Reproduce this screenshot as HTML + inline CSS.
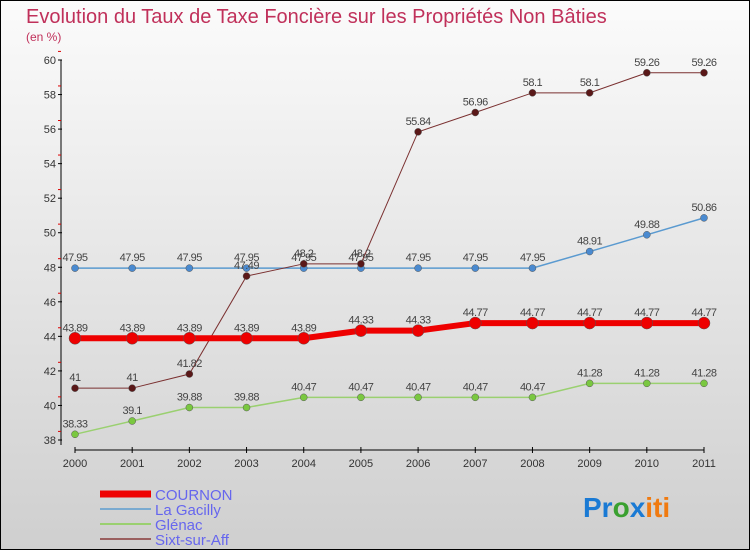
<!DOCTYPE html>
<html><head><meta charset="utf-8"><style>
body{margin:0;width:750px;height:550px;overflow:hidden;font-family:"Liberation Sans",sans-serif}
</style></head><body>
<svg width="750" height="550" xmlns="http://www.w3.org/2000/svg">
<defs><linearGradient id="bg" x1="0" y1="0" x2="0" y2="1"><stop offset="0" stop-color="#fbfbfb"/><stop offset="1" stop-color="#cfcfcf"/></linearGradient></defs>
<rect x="0.5" y="0.5" width="749" height="549" fill="url(#bg)" stroke="#000"/>
<text x="26" y="23" font-size="20" fill="#c0305a">Evolution du Taux de Taxe Foncière sur les Propriétés Non Bâties</text>
<text x="26" y="41" font-size="12" fill="#c0305a">(en %)</text>
<g id="axes"></g><g id="series"></g><g id="legend"></g>
<text x="583" y="517" font-size="28" font-weight="bold"><tspan fill="#1a7ad4">Pr</tspan><tspan fill="#3aa030">o</tspan><tspan fill="#1a7ad4">x</tspan><tspan fill="#f07a10">iti</tspan></text>
</svg>
<script>
const years=[2000,2001,2002,2003,2004,2005,2006,2007,2008,2009,2010,2011];
const yTicks=[38,40,42,44,46,48,50,52,54,56,58,60];
const names=["COURNON","La Gacilly","Glénac","Sixt-sur-Aff"];
const cournon=[43.89,43.89,43.89,43.89,43.89,44.33,44.33,44.77,44.77,44.77,44.77,44.77];
const gacilly=[47.95,47.95,47.95,47.95,47.95,47.95,47.95,47.95,47.95,48.91,49.88,50.86];
const glenac=[38.33,39.1,39.88,39.88,40.47,40.47,40.47,40.47,40.47,41.28,41.28,41.28];
const sixt=[41,41,41.82,47.49,48.2,48.2,55.84,56.96,58.1,58.1,59.26,59.26];
const NS="http://www.w3.org/2000/svg";
const xs=i=>75+i*(704-75)/(years.length-1);
const ys=v=>440-(v-38)*(380/22);
function mk(t,a,p){const e=document.createElementNS(NS,t);for(const k in a)e.setAttribute(k,a[k]);p.appendChild(e);return e;}
const ax=document.getElementById('axes');
let l=mk('line',{x1:61,y1:60,x2:61,y2:445,stroke:'#000'},ax);


l=mk('line',{x1:75,y1:450,x2:704,y2:450,stroke:'#000'},ax);


yTicks.forEach(v=>{const y=ys(v);mk('line',{x1:58,y1:y,x2:62,y2:y,stroke:'#000'},ax);
mk('line',{x1:58,y1:y-8.6,x2:61,y2:y-8.6,stroke:'#d00'},ax);
const t=mk('text',{x:56,y:y+4,'font-size':11,fill:'#333','text-anchor':'end'},ax);t.textContent=v;

});
years.forEach((yr,i)=>{const x=xs(i);mk('line',{x1:x,y1:447,x2:x,y2:453,stroke:'#000'},ax);
const t=mk('text',{x:x,y:467,'font-size':11,fill:'#333','text-anchor':'middle'},ax);t.textContent=yr;

});
const sg=document.getElementById('series');
const defs=[[gacilly,'#5a9ad0','#4a8ad0',1.5,3.5,'gacilly'],[glenac,'#9ad070','#7ac840',1.5,3.5,'glenac'],[sixt,'#7a3030','#5a1818',1,3.5,'sixt'],[cournon,'#ee0000','#ee0000',6,6,'cournon']];
defs.forEach(([d,c,mc,w,r,n])=>{const g=mk('g',{},sg);


mk('polyline',{points:d.map((v,i)=>xs(i)+','+ys(v)).join(' '),fill:'none',stroke:c,'stroke-width':w},g);
d.forEach((v,i)=>{const p=mk('circle',{cx:xs(i),cy:ys(v),r:r,fill:mc,stroke:'#555','stroke-width':0.5},g);


const t=mk('text',{x:xs(i),y:ys(v)-7,'font-size':11,fill:'#444','text-anchor':'middle','letter-spacing':'-0.5'},g);t.textContent=v;

});});
const lg=document.getElementById('legend');
const lc=[['#ee0000',7],['#7aaad0',2],['#9ad070',2],['#9a6060',2]];
names.forEach((n,i)=>{const y=494+i*15;const g=mk('g',{},lg);


mk('line',{x1:100,y1:y,x2:151,y2:y,stroke:lc[i][0],'stroke-width':lc[i][1]},g);
const t=mk('text',{x:155,y:y+6,'font-size':15,fill:'#6666ee'},g);t.textContent=n;});
</script>
</body></html>
